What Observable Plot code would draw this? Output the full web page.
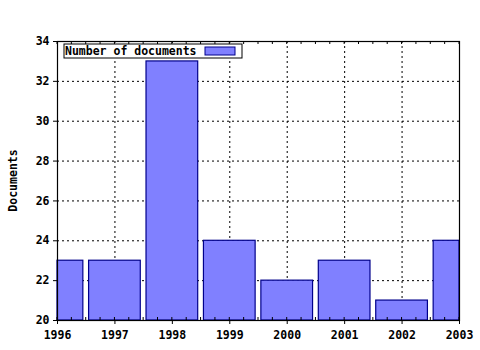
<!DOCTYPE html>
<html><head><meta charset="utf-8">
<script src="https://cdn.jsdelivr.net/npm/d3@7"></script>
<script src="https://cdn.jsdelivr.net/npm/@observablehq/plot@0.6"></script>
<style>body{margin:0;background:#fff}#c{position:relative;width:480px;height:350px}</style>
</head><body><div id="c"></div>
<script>
const years = [1996, 1997, 1998, 1999, 2000, 2001, 2002, 2003];
const documents = [23, 23, 33, 24, 22, 23, 21, 24];
const yTicks = [20, 22, 24, 26, 28, 30, 32, 34];
const seriesName = "Number of documents";
const yLabel = "Documents";

const data = years.map((y, i) => ({year: y, value: documents[i]}));
const minor = d3.range(1996, 2003.001, 0.25);
const font = "'DejaVu Sans Mono', monospace";
const fs = 11.5;
const x0 = 1996, x1 = 2003;
const chart = Plot.plot({
  width: 480, height: 350,
  marginLeft: 57, marginRight: 21, marginTop: 41, marginBottom: 30,
  style: {fontFamily: font, fontSize: fs + "px", fontWeight: "bold", background: "#fff", color: "#000"},
  x: {domain: [x0, x1], label: null},
  y: {domain: [20, 34], label: null},
  marks: [
    Plot.gridY(yTicks.slice(1, -1), {stroke: "#000", strokeOpacity: 1, strokeDasharray: "2,3"}),
    Plot.gridX(years.slice(1, -1), {stroke: "#000", strokeOpacity: 1, strokeDasharray: "2,3"}),
    Plot.rectY(data, {
      x1: d => Math.max(x0, d.year - 0.45), x2: d => Math.min(x1, d.year + 0.45),
      y1: 20, y2: "value", fill: "#8080ff", stroke: "#00008b", strokeWidth: 1.2
    }),
    Plot.frame({stroke: "#000", strokeWidth: 1.2}),
    Plot.axisX({ticks: years, tickFormat: d => String(d), tickSize: 4, tickPadding: 6, fontSize: fs, fontWeight: "bold", label: null}),
    Plot.axisY({ticks: yTicks, tickSize: 4, tickPadding: 4, fontSize: fs, fontWeight: "bold", label: null})
  ]
});
const svg = d3.select(chart);
const sx = chart.scale("x"), sy = chart.scale("y");
const g = svg.append("g").attr("stroke", "#000");
minor.forEach(m => {
  const px = sx.apply(m);
  g.append("line").attr("x1", px).attr("x2", px).attr("y1", sy.apply(20)).attr("y2", sy.apply(20) - 3);
  g.append("line").attr("x1", px).attr("x2", px).attr("y1", sy.apply(34)).attr("y2", sy.apply(34) + 3);
});
svg.append("text").attr("transform", `translate(17,${(sy.apply(20)+sy.apply(34))/2}) rotate(-90)`)
  .attr("text-anchor", "middle").attr("font-family", font).attr("font-size", fs).attr("font-weight", "bold").text(yLabel);
const lg = svg.append("g");
const lx = sx.apply(1996) + 7, ly = sy.apply(34) + 3;
lg.append("rect").attr("x", lx).attr("y", ly).attr("width", 178).attr("height", 14).attr("fill", "#fff").attr("stroke", "#000");
lg.append("text").attr("x", lx + 1).attr("y", ly + 11).attr("text-anchor", "start").attr("font-family", font).attr("font-size", fs).attr("font-weight", "bold").text(seriesName);
lg.append("rect").attr("x", lx + 141).attr("y", ly + 3).attr("width", 30).attr("height", 8).attr("fill", "#8080ff").attr("stroke", "#00008b");
document.getElementById("c").appendChild(chart);
</script></body></html>
